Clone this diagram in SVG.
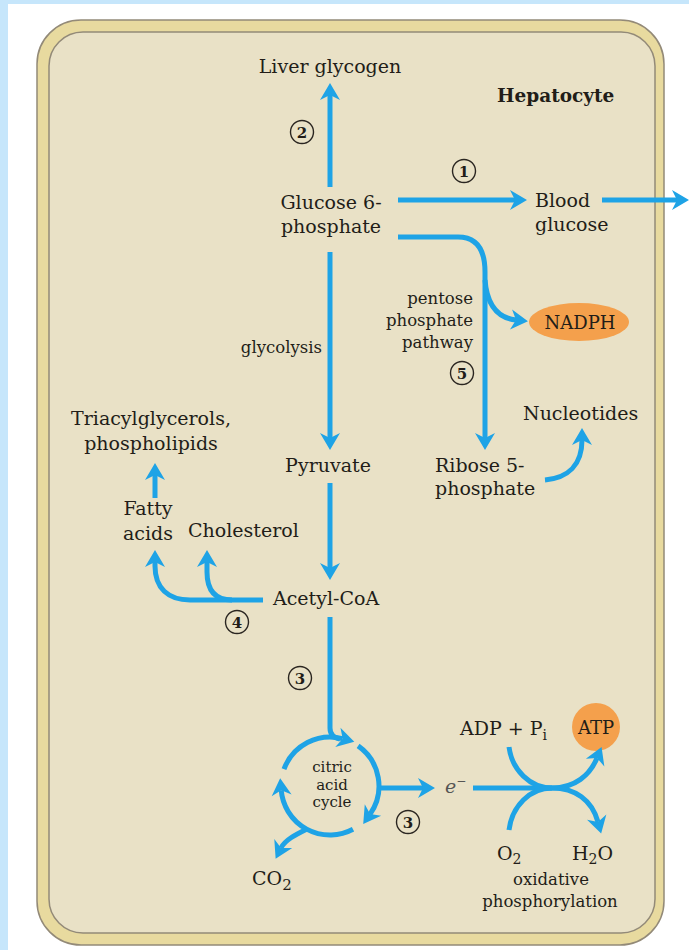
<svg xmlns="http://www.w3.org/2000/svg" width="689" height="950" viewBox="0 0 689 950">
<style>
text{font-family:"DejaVu Serif","Liberation Serif",serif;fill:#221d18;font-size:19px}
.sm{font-size:16.5px}
.xs{font-size:15px}
.b{font-weight:bold}
.m{text-anchor:middle}
.e{text-anchor:end}
.ar{fill:none;stroke:#1ea3e6;stroke-width:5;marker-end:url(#ah)}
.ln{fill:none;stroke:#1ea3e6;stroke-width:5}
.num circle{fill:none;stroke:#2a2520;stroke-width:1.4}
.num text{font-size:15px;font-weight:bold;text-anchor:middle}
.org{fill:#f4a04c}
</style>
<defs>
<marker id="ah" markerUnits="userSpaceOnUse" viewBox="-2 -12 22 24" markerWidth="22" markerHeight="24" refX="5" refY="0" orient="auto">
<path d="M0,-10 L17,0 L0,10 L5,0 Z" fill="#1ea3e6"/>
</marker>
</defs>
<rect x="0" y="0" width="689" height="950" fill="#ffffff"/>
<rect x="0" y="0" width="689" height="4" fill="#c6e6fb"/>
<rect x="0" y="0" width="8" height="950" fill="#c6e6fb"/>
<g id="cell">
<rect x="37" y="20" width="627" height="925" rx="44" fill="#e8da9f" stroke="#938a78" stroke-width="1.5"/>
<rect x="49" y="32" width="606" height="901" rx="34" fill="#e9e1c6" stroke="#938a78" stroke-width="1.5"/>
<text x="497" y="102" class="b" style="font-size:18.5px">Hepatocyte</text>
</g>
<g id="liver-glycogen"><text x="330" y="73" class="m">Liver glycogen</text></g>
<g id="g6p"><text x="331" y="209" class="m">Glucose 6-</text><text x="331" y="233" class="m">phosphate</text></g>
<g id="blood-glucose"><text x="535" y="207">Blood</text><text x="535" y="231">glucose</text></g>
<g id="nadph"><ellipse cx="579" cy="322" rx="50" ry="19" class="org"/><text x="580" y="329" class="m" style="font-size:18px">NADPH</text></g>
<g id="ppp-label"><text x="473" y="304" class="sm e">pentose</text><text x="473" y="326" class="sm e">phosphate</text><text x="473" y="348" class="sm e">pathway</text></g>
<g id="glycolysis-label"><text x="322" y="353" class="sm e">glycolysis</text></g>
<g id="pyruvate"><text x="328" y="472" class="m">Pyruvate</text></g>
<g id="r5p"><text x="435" y="472">Ribose 5-</text><text x="435" y="495">phosphate</text></g>
<g id="nucleotides"><text x="523" y="420">Nucleotides</text></g>
<g id="triacylglycerols"><text x="151" y="425" class="m">Triacylglycerols,</text><text x="151" y="450" class="m">phospholipids</text></g>
<g id="fatty-acids"><text x="148" y="515" class="m">Fatty</text><text x="148" y="540" class="m">acids</text></g>
<g id="cholesterol"><text x="188" y="537">Cholesterol</text></g>
<g id="acetyl-coa"><text x="273" y="605">Acetyl-CoA</text></g>
<g id="citric-acid-cycle"><text x="332" y="772" class="xs m">citric</text><text x="332" y="790" class="xs m">acid</text><text x="332" y="807" class="xs m">cycle</text></g>
<g id="electrons"><text x="445" y="793" style="font-style:italic;fill:#555">e<tspan dy="-8" style="font-size:12px;font-style:normal">−</tspan></text></g>
<g id="co2"><text x="252" y="885">CO<tspan dy="5" style="font-size:15px">2</tspan></text></g>
<g id="adp"><text x="460" y="735">ADP + P<tspan dy="5" style="font-size:14px">i</tspan></text></g>
<g id="atp"><circle cx="596" cy="727" r="24" class="org"/><text x="596" y="734" class="m" style="font-size:18px">ATP</text></g>
<g id="o2"><text x="497" y="860">O<tspan dy="4" style="font-size:14px">2</tspan></text></g>
<g id="h2o"><text x="572" y="860">H<tspan dy="4" style="font-size:14px">2</tspan><tspan dy="-4">O</tspan></text></g>
<g id="oxphos-label"><text x="551" y="885" class="sm m">oxidative</text><text x="550" y="907" class="sm m">phosphorylation</text></g>
<g id="steps">
<g class="num"><circle cx="464" cy="171" r="11.5"/><text x="464" y="177">1</text></g>
<g class="num"><circle cx="302" cy="132" r="11.5"/><text x="302" y="138">2</text></g>
<g class="num"><circle cx="300" cy="678" r="11.5"/><text x="300" y="684">3</text></g>
<g class="num"><circle cx="408" cy="822" r="11.5"/><text x="408" y="828">3</text></g>
<g class="num"><circle cx="237" cy="622" r="11.5"/><text x="237" y="628">4</text></g>
<g class="num"><circle cx="462" cy="373" r="11.5"/><text x="462" y="379">5</text></g>
</g>
<g id="connectors">
<path class="ar" d="M330,187 V95"/>
<path class="ar" d="M398,200 H515"/>
<path class="ar" d="M602,200 H677"/>
<path class="ar" d="M398,237 H458 C477,237 485,250 485,272 V438"/>
<path class="ar" d="M485,280 C487,305 497,318 516,320"/>
<path class="ar" d="M330,252 V438"/>
<path class="ar" d="M545,480 C568,478 582,465 582,440"/>
<path class="ar" d="M330,483 V568"/>
<path class="ar" d="M155,498 V475"/>
<path class="ar" d="M263,600 H190 C168,600 155,588 155,566 V562"/>
<path class="ar" d="M232,600 C215,600 207,590 207,572 V562"/>
<path class="ln" d="M330,617 V728 Q330,737 340,739"/>
<path class="ar" d="M284,769.2 A49,49 0 0 1 342.7,738.7"/>
<path class="ar" d="M358.1,745.9 A49,49 0 0 1 370.1,814.1"/>
<path class="ar" d="M353,829.3 A49,49 0 0 1 281.2,790.3"/>
<path class="ar" d="M379,788 H423"/>
<path class="ar" d="M307,829 C295,835 285,840 281,848"/>
<path class="ln" d="M473,788 H552"/>
<path class="ln" d="M509,747 C512,770 530,788 552,788"/>
<path class="ln" d="M509,830 C512,806 530,788 552,788"/>
<path class="ar" d="M552,788 C575,788 590,775 597,758"/>
<path class="ar" d="M552,788 C575,788 592,800 598,822"/>
</g>
</svg>
